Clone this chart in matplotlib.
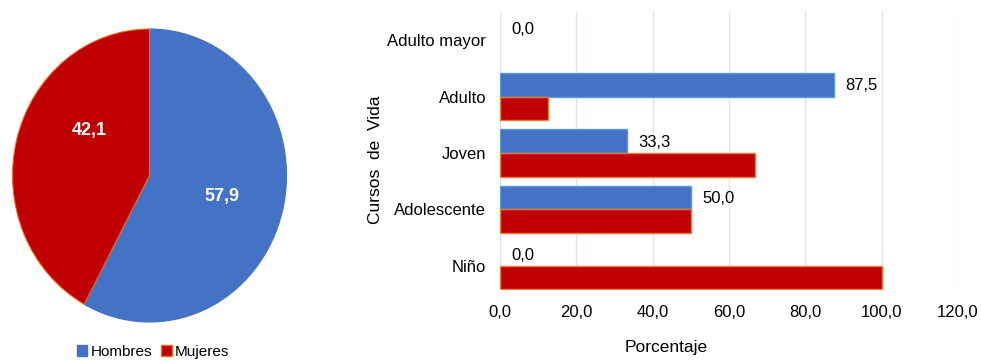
import numpy as np
import matplotlib
matplotlib.use("Agg")
import matplotlib.pyplot as plt
from matplotlib.patches import Patch

plt.rcParams['font.family'] = ['Liberation Sans', 'DejaVu Sans']

# datos
sexo = ['Hombres', 'Mujeres']
sexo_pct = [57.9, 42.1]

cursos = ['Niño', 'Adolescente', 'Joven', 'Adulto', 'Adulto mayor']
hombres = [0.0, 50.0, 33.3, 87.5, 0.0]
mujeres = [100.0, 50.0, 66.7, 12.5, 0.0]

azul = '#4472C4'
rojo = '#C00000'

def fmt(v):
    return f"{v:.1f}".replace('.', ',')

W, H = 981, 362
fig = plt.figure(figsize=(W / 100, H / 100), dpi=100)

# pie
ax1 = fig.add_axes([12.5 / W, 40 / H, 274 / W, 293 / H])
wedges, _ = ax1.pie(sexo_pct, colors=[azul, rojo], startangle=90, counterclock=False,
                    wedgeprops=dict(edgecolor='#E8701A', linewidth=0.8))
wedges[0].set_edgecolor(azul)
ax1.set_aspect('auto')
ax1.set_xlim(-1, 1)
ax1.set_ylim(-1, 1)
pos = [(0.53, -0.14), (-0.44, 0.31)]
for (x, y), v in zip(pos, sexo_pct):
    ax1.text(x, y, fmt(v), color='white', fontsize=13, fontweight='bold',
             ha='center', va='center')

handles = [Patch(facecolor=azul, edgecolor=azul), Patch(facecolor=rojo, edgecolor='#E8701A')]
fig.legend(handles, sexo, loc='center', bbox_to_anchor=(153 / W, 1 - 352 / H),
           ncol=2, frameon=False, fontsize=11, handlelength=0.7, handleheight=0.7,
           handletextpad=0.2, columnspacing=0.6, borderaxespad=0)

# barras
ax2 = fig.add_axes([500 / W, 72 / H, 458 / W, 278 / H])
y = np.arange(len(cursos))
h = 0.42
hv = np.array(hombres)
mv = np.array(mujeres)
ax2.barh(y + h / 2, hv, height=h, color=azul, edgecolor='#5B9BD5',
         linewidth=np.where(hv > 0, 1, 0))
ax2.barh(y - h / 2, mv, height=h, color=rojo, edgecolor='#ED7D31',
         linewidth=np.where(mv > 0, 1, 0))
for yi, v in zip(y, hombres):
    ax2.text(v + 2.9, yi + h / 2 - 0.02, fmt(v), fontsize=12, ha='left', va='center')

ax2.set_xlim(0, 120)
ax2.set_ylim(-0.43, 4.5)
ax2.set_xticks(np.arange(0, 121, 20))
ax2.set_xticklabels([fmt(t) for t in np.arange(0, 121, 20)])
ax2.set_yticks(y)
ax2.set_yticklabels(cursos)
ax2.tick_params(length=0, labelsize=12)
ax2.tick_params(axis='x', pad=11)
ax2.tick_params(axis='y', pad=10)
ax2.grid(axis='x', color='#D9E3F1', linewidth=1)
ax2.set_axisbelow(True)
for s in ax2.spines.values():
    s.set_visible(False)
ax2.set_xlabel('Porcentaje', fontsize=12.5)
ax2.xaxis.set_label_coords(0.362, -50 / 278)
ax2.set_ylabel('Cursos  de  Vida', fontsize=12.5)
ax2.yaxis.set_label_coords(-117 / 458, 0.468)

fig.savefig('out.png', dpi=100)
